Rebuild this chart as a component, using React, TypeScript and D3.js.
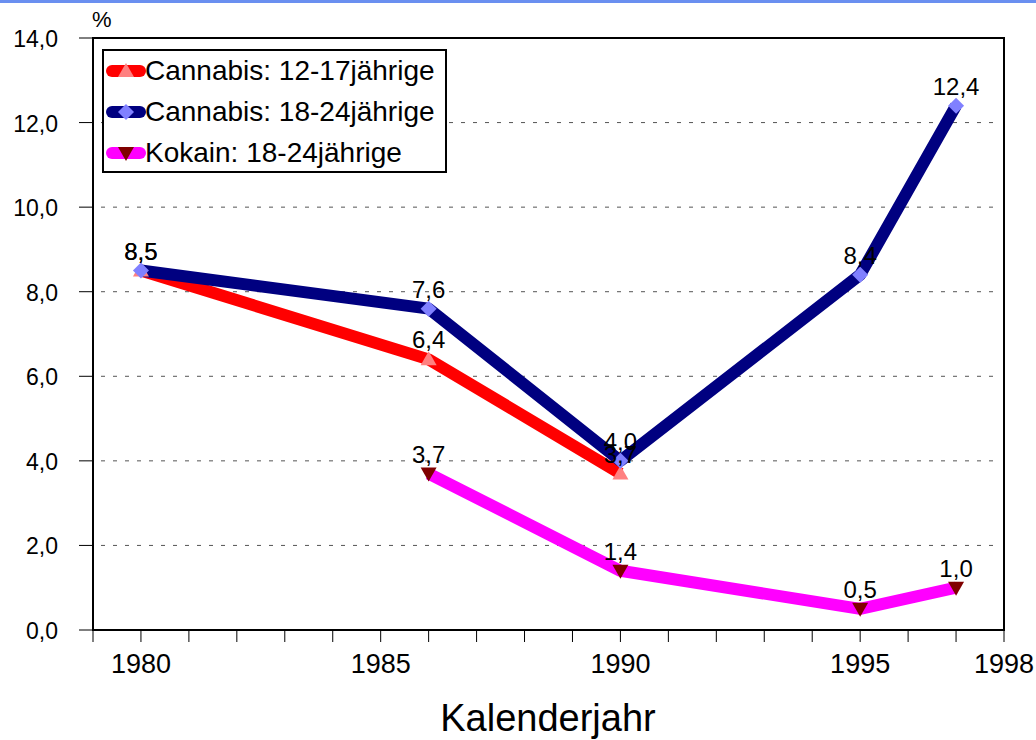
import React from 'react';
import * as d3 from 'd3';

// data
const cannabisYoungYears = [1980, 1986, 1990];
const cannabisYoungValues = [8.5, 6.4, 3.7];
const cannabisAdultYears = [1980, 1986, 1990, 1995, 1997];
const cannabisAdultValues = [8.5, 7.6, 4.0, 8.4, 12.4];
const kokainYears = [1986, 1990, 1995, 1997];
const kokainValues = [3.7, 1.4, 0.5, 1.0];

const yTicks = [0, 2, 4, 6, 8, 10, 12, 14];
const xLabelYears = [1980, 1985, 1990, 1995, 1998];

const seriesList = [
  { name: 'Cannabis: 12-17jährige', years: cannabisYoungYears, values: cannabisYoungValues, line: '#ff0000', marker: '#ff8080', shape: 'up' },
  { name: 'Cannabis: 18-24jährige', years: cannabisAdultYears, values: cannabisAdultValues, line: '#000080', marker: '#8080ff', shape: 'diamond' },
  { name: 'Kokain: 18-24jährige', years: kokainYears, values: kokainValues, line: '#ff00ff', marker: '#800000', shape: 'down' },
];

const W = 1036;
const H = 740;
const left = 93, right = 1004, top = 38, bottom = 630;
const font = '"Liberation Sans", Arial, sans-serif';

const fmt = (v: number) => v.toFixed(1).replace('.', ',');

const markerPath = (shape: string) => {
  if (shape === 'up') return 'M0,-8 L8,6 L-8,6 Z';
  if (shape === 'down') return 'M0,8 L8,-6 L-8,-6 Z';
  return 'M0,-8 L8,0 L0,8 L-8,0 Z';
};

export default function App() {
  const x = d3.scaleLinear().domain([1979, 1998]).range([left, right]);
  const y = d3.scaleLinear().domain([0, 14]).range([bottom, top]);
  const line = d3.line<[number, number]>().x(d => x(d[0])).y(d => y(d[1]));
  const allYears = d3.range(1979, 1999);

  return (
    <svg width={W} height={H} style={{ display: 'block', position: 'absolute', left: 0, top: 0 }} fontFamily={font}>
      <rect x={0} y={0} width={W} height={H} fill="#fff" />
      <rect x={0} y={0} width={W} height={3} fill="#6a8ff0" />

      {/* gridlines */}
      {yTicks.filter(t => t > 0 && t < 14).map(t => (
        <line key={t} x1={left + 8} x2={right - 9} y1={y(t)} y2={y(t)} stroke="#555" strokeWidth={1} strokeDasharray="4,8" />
      ))}

      {/* plot frame */}
      <rect x={left} y={top} width={right - left} height={bottom - top} fill="none" stroke="#000" strokeWidth={2} />

      {/* y axis ticks and labels */}
      {yTicks.map(t => (
        <g key={t}>
          <line x1={left - 14} x2={left} y1={y(t)} y2={y(t)} stroke="#000" strokeWidth={1} />
          <text x={58} y={y(t) + 9} textAnchor="end" fontSize={23} fill="#000">{fmt(t)}</text>
        </g>
      ))}
      <text x={92} y={27} fontSize={22} fill="#000">%</text>

      {/* x axis ticks and labels */}
      {allYears.map(yr => (
        <line key={yr} x1={x(yr)} x2={x(yr)} y1={bottom} y2={bottom + 12} stroke="#000" strokeWidth={1} />
      ))}
      {xLabelYears.map(yr => (
        <text key={yr} x={x(yr)} y={673} textAnchor="middle" fontSize={27} fill="#000">{yr}</text>
      ))}
      <text x={548} y={731} textAnchor="middle" fontSize={38} fill="#000">Kalenderjahr</text>

      {/* series */}
      {seriesList.map(s => {
        const pts = s.years.map((yr, i) => [yr, s.values[i]] as [number, number]);
        return (
          <path key={s.name} d={line(pts) || ''} fill="none" stroke={s.line} strokeWidth={12} strokeLinejoin="round" strokeLinecap="butt" />
        );
      })}
      {seriesList.map(s => (
        <g key={s.name + '-m'}>
          {s.years.map((yr, i) => (
            <path key={yr} d={markerPath(s.shape)} transform={`translate(${x(yr)},${y(s.values[i])})`} fill={s.marker} />
          ))}
        </g>
      ))}
      {seriesList.map(s => (
        <g key={s.name + '-l'}>
          {s.years.map((yr, i) => (
            <text key={yr} x={x(yr)} y={y(s.values[i]) - 11} textAnchor="middle" fontSize={24} fill="#000">{fmt(s.values[i])}</text>
          ))}
        </g>
      ))}

      {/* legend */}
      <rect x={103} y={50} width={343} height={122} fill="#fff" stroke="#000" strokeWidth={2} />
      {seriesList.map((s, i) => {
        const cy = 71 + i * 41;
        return (
          <g key={s.name + '-leg'}>
            <line x1={112} x2={140} y1={cy} y2={cy} stroke={s.line} strokeWidth={12} strokeLinecap="round" />
            <path d={markerPath(s.shape)} transform={`translate(126,${cy})`} fill={s.marker} />
            <text x={145} y={cy + 9} fontSize={28} fill="#000">{s.name}</text>
          </g>
        );
      })}
    </svg>
  );
}
